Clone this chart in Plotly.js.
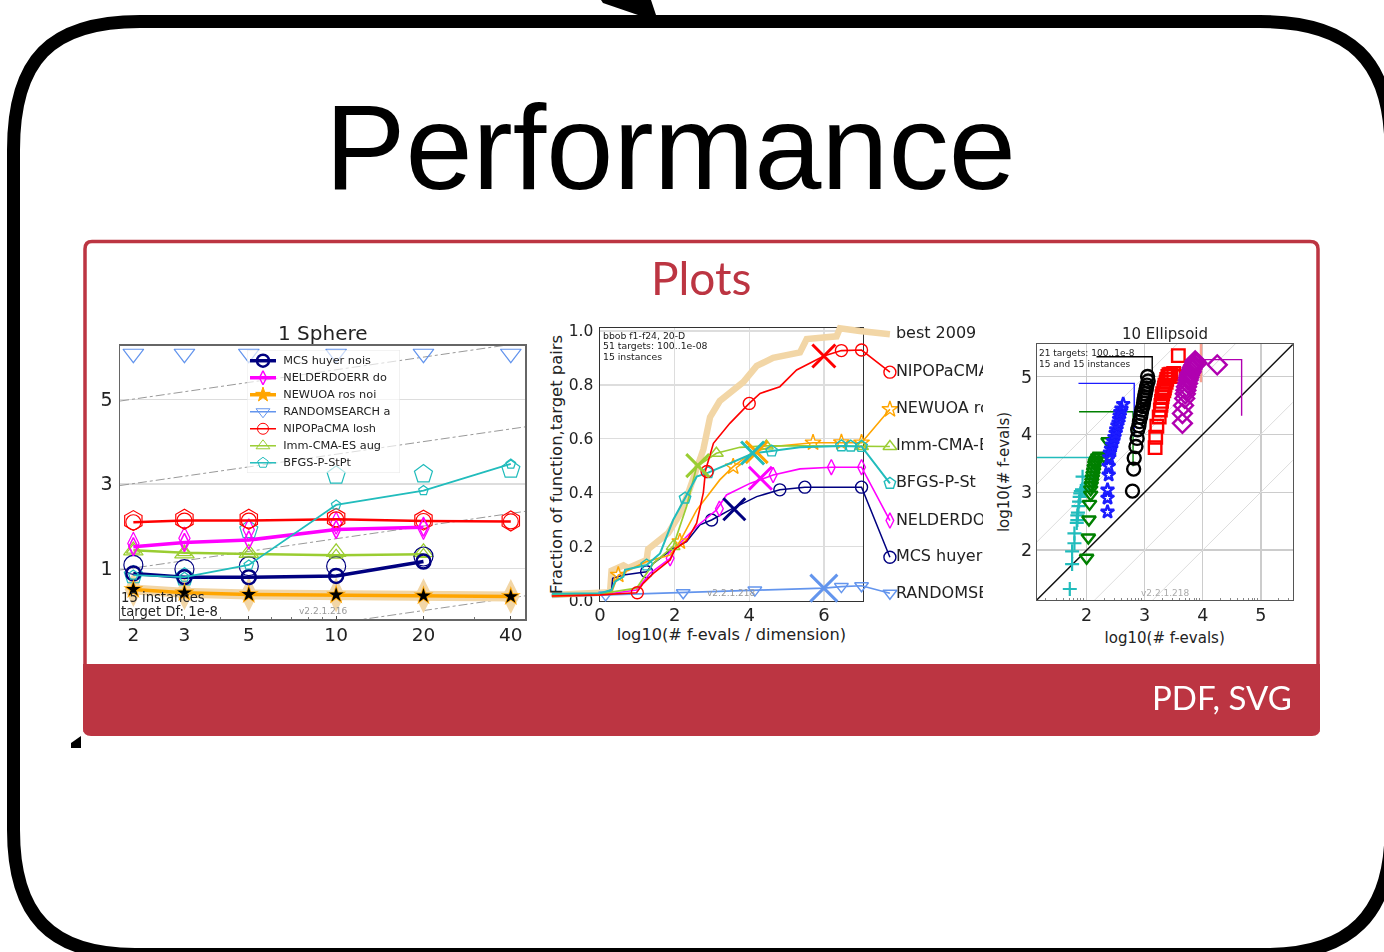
<!DOCTYPE html>
<html><head><meta charset="utf-8">
<script src="https://cdn.plot.ly/plotly-3.0.1.min.js"></script>
<style>
html,body{margin:0;padding:0;background:#fff;overflow:hidden}
#c{width:1384px;height:952px}
.subplot.x2y2,.subplot.x3y3,.subplot.x4y4,.subplot.x5y5,.subplot.x6y6,.annotation:not([data-index="0"]){filter:url(#soft)}
</style></head><body>
<svg width="0" height="0" style="position:absolute"><defs><filter id="soft" x="-10%" y="-10%" width="120%" height="120%"><feGaussianBlur stdDeviation="0.6"/></filter></defs></svg>
<div id="c"></div>
<script>
// ---------- Panel 1: scaling with dimension ----------
const dims=[2,3,5,10,20,40];
const dims20=[2,3,5,10,20];
const mcsMedian=[0.88,0.79,0.79,0.82,1.16];
const mcsOuter=[1.08,0.98,1.05,1.05,1.28];
const nelderMedian=[1.51,1.61,1.67,1.92,1.97];
const nelderOuter=[1.59,1.71,1.91,2.07,1.95];
const newuoaMedian=[0.50,0.42,0.38,0.37,0.35,0.33];
const randomTop=[6.08,6.08,6.08,6.08,6.08,6.08];
const nipopMedian=[2.09,2.13,2.13,2.16,2.12,2.11];
const nipopOuter=[2.13,2.16,2.16,2.18,2.14,2.12];
const immMedian=[1.43,1.37,1.34,1.31,1.33];
const immOuter=[1.42,1.35,1.36,1.38,1.38];
const bfgsMedian=[0.84,0.79,1.08,2.50,2.84,3.47];
const bfgsOuter=[0.84,0.79,1.91,3.20,3.23,3.34];
const refX=[1.8,45];
const refA=[4.96,6.35], refB=[2.96,4.35], refC=[0.96,2.35], refD=[-1.04,0.35];
const legendNames=['MCS huyer nois','NELDERDOERR do','NEWUOA ros noi','RANDOMSEARCH a','NIPOPaCMA losh','Imm-CMA-ES aug','BFGS-P-StPt'];
const legendRows=[0,1,2,3,4,5,6];
// ---------- Panel 2: ECDF ----------
const bestX=[-1.29,.27,.31,.63,.76,1.25,1.29,1.83,2.14,2.37,2.77,2.95,3.21,3.57,3.84,4.2,4.64,5.36,5.54,6.34,6.43,6.96,7.77];
const bestY=[.02,.03,.11,.13,.12,.15,.19,.25,.32,.40,.56,.68,.74,.78,.81,.87,.90,.92,.97,.98,1.01,1.0,.988];
const nipX=[-1.29,0,.98,1.16,1.43,1.88,2.01,2.32,2.59,2.77,2.83,3.04,3.48,4,4.29,4.82,5.27,5.71,6,6.47,7.01,7.77];
const nipY=[.016,.02,.028,.063,.1,.15,.19,.22,.286,.4,.483,.583,.657,.731,.768,.793,.855,.886,.907,.927,.929,.847];
const nipMX=[1,2.87,4,6.47,7.01,7.77], nipMY=[.028,.478,.731,.927,.929,.847];
const newX=[-1.29,0,.31,.49,1.25,1.88,2.14,2.59,3.21,3.57,4.11,4.64,5.71,6.47,7.01,7.77];
const newY=[.014,.02,.03,.094,.144,.168,.218,.335,.447,.496,.552,.571,.585,.586,.585,.709];
const newMX=[.49,2.14,3.57,5.71,6.47,7.01,7.77], newMY=[.094,.218,.496,.585,.586,.585,.709];
const immX=[-1.29,0,.98,1.43,1.96,2.32,2.59,3.12,3.75,4.46,5.36,7.01,7.77];
const immY=[.02,.024,.045,.137,.2,.348,.496,.546,.568,.573,.573,.571,.571];
const immMX=[1.96,3.12,4.46,7.01,7.77], immMY=[.2,.546,.573,.571,.571];
const bfgX=[-1.29,0,.31,.4,.63,.67,1.25,1.61,1.96,2.28,2.59,2.9,3.48,4.11,4.6,5.36,6.47,7.01,7.77];
const bfgY=[.024,.026,.038,.069,.088,.113,.131,.174,.298,.379,.459,.474,.509,.546,.554,.568,.573,.571,.434];
const bfgMX=[1.25,2.28,2.9,4.6,6.47,6.72,7.01,7.77], bfgMY=[.131,.379,.474,.554,.573,.572,.571,.434];
const nelX=[-1.29,0,.98,1.34,1.88,2.05,2.59,3.12,3.39,4.02,4.64,5.36,6.2,7.01,7.77];
const nelY=[.016,.02,.038,.1,.156,.199,.274,.335,.391,.434,.465,.488,.494,.494,.296];
const nelMX=[1.88,3.2,4.64,6.2,7.01,7.77], nelMY=[.156,.34,.465,.494,.494,.296];
const mcsX=[-1.29,0,.31,.34,.63,1.25,1.43,1.96,2.32,2.68,2.99,3.57,4.2,4.82,5.49,7.01,7.77];
const mcsY=[.02,.024,.038,.082,.094,.106,.137,.193,.218,.28,.298,.342,.385,.41,.42,.42,.16];
const mcsMX=[1.25,2.99,4.82,5.49,7.01,7.77], mcsMY=[.106,.298,.41,.42,.42,.16];
const ranX=[-1.29,0,2.23,4.15,6,6.47,7.01,7.77];
const ranY=[.014,.02,.028,.038,.045,.051,.054,.026];
const ranMX=[.15,2.23,4.15,6.47,7.01,7.77], ranMY=[.02,.028,.038,.051,.054,.026];
const crossX=[6,4.2,2.62,4.09,4.3,3.6,6];
const crossY=[.907,.55,.5,.547,.453,.338,.045];
const crossColors=['#ff0000','#ffa500','#9acd32','#20bcbc','#ff00ff','#000080','#6495ed'];
const crossSizes=[23,22,23,23,23,22,27];
const labelNames=['best 2009','NIPOPaCMA','NEWUOA ros','Imm-CMA-ES','BFGS-P-St','NELDERDOERR','MCS huyer','RANDOMSEARCH'];
const labelY=[.988,.847,.709,.571,.434,.296,.16,.024];
const labelX=[7.93,7.93,7.93,7.93,7.93,7.93,7.93,7.93];
// ---------- Panel 3: scatter ----------
const plusX=[1.71,1.75,1.75,1.79,1.79,1.83,1.84,1.84,1.85,1.86,1.87,1.88,1.89,1.9,1.92,1.96,1.93];
const plusY=[1.33,1.76,1.98,2.12,2.29,2.47,2.52,2.6,2.65,2.76,2.84,2.92,2.98,3.02,3.05,3.04,3.27];
const triX=[2,2.03,2.04,2.05,2.07,2.07,2.08,2.09,2.1,2.11,2.12,2.13,2.14,2.15,2.17,2.19,2.22,2.3,2.38,2.37];
const triY=[1.87,2.22,2.53,2.8,2.96,3.05,3.12,3.18,3.24,3.3,3.36,3.42,3.48,3.52,3.56,3.6,3.63,3.62,3.62,3.88];
const starX=[2.36,2.36,2.36,2.38,2.38,2.39,2.4,2.42,2.44,2.46,2.48,2.5,2.51,2.53,2.55,2.56,2.57,2.58,2.6,2.63];
const starY=[2.66,2.9,3.04,3.3,3.45,3.6,3.68,3.75,3.82,3.88,3.95,4.02,4.08,4.15,4.2,4.26,4.32,4.38,4.44,4.52];
const circX=[2.79,2.81,2.82,2.85,2.87,2.88,2.9,2.91,2.93,2.94,2.95,2.97,2.98,2.99,3,3.01,3.02,3.03,3.04,3.06,3.05];
const circY=[3.02,3.4,3.59,3.79,3.93,4.08,4.15,4.22,4.3,4.36,4.42,4.48,4.54,4.6,4.65,4.7,4.75,4.8,4.85,4.92,5];
const sqX=[3.18,3.19,3.21,3.25,3.27,3.28,3.29,3.3,3.31,3.33,3.34,3.35,3.37,3.38,3.4,3.42,3.45,3.5,3.58,3.58];
const sqY=[3.77,3.95,4.14,4.3,4.42,4.5,4.57,4.65,4.7,4.75,4.8,4.85,4.9,4.95,5,5.03,5.04,5.05,5,5.36];
const diaX=[3.65,3.65,3.67,3.69,3.7,3.71,3.72,3.74,3.75,3.76,3.77,3.78,3.8,3.81,3.82,3.84,3.85,3.86,3.87,3.9,4.25];
const diaY=[4.19,4.36,4.5,4.62,4.7,4.76,4.82,4.88,4.94,4.98,5.02,5.05,5.08,5.12,5.15,5.18,5.2,5.24,5.27,5.23,5.2];
const stepCyanX=[1.14,2.09,2.09], stepCyanY=[3.6,3.6,3.1];
const stepGreenX=[1.87,2.8,2.8], stepGreenY=[4.39,4.39,3.45];
const stepBlueX=[1.86,2.82,2.82], stepBlueY=[4.88,4.88,3.96];
const stepBlackX=[2.17,3.13,3.13], stepBlackY=[5.34,5.34,4.9];
const stepRedX=[3.97,3.97], stepRedY=[5.56,4.9];
const stepPurpleX=[3.7,4.67,4.67], stepPurpleY=[5.29,5.29,4.32];
const diagX=[1,6];
const diagMain=[1,6], diagP1=[2,7], diagP2=[3,8], diagM1=[0,5], diagM2=[-1,4];
const logMinor=[1.3,1.48,1.6,1.7,1.78,1.85,1.9,1.95,2.3,2.48,2.6,2.7,2.78,2.85,2.9,2.95,3.3,3.48,3.6,3.7,3.78,3.85,3.9,3.95,4.3,4.48,4.6,4.7,4.78,4.85,4.9,4.95,5.3,5.48];

const W=1384,H=952;
const xd=(a,b)=>[a/W,b/W], yd=(t,b)=>[1-b/H,1-t/H];
const F='DejaVu Sans';
const NAVY='#000080',MAG='#ff00ff',ORG='#ffa500',BLUE='#6495ed',RED='#ff0000',GRN='#9acd32',TUR='#20bcbc',TAN='#f2d6a6';

const traces=[];
function add(o,ax){ traces.push(Object.assign({type:'scatter',xaxis:'x'+ax,yaxis:'y'+ax,showlegend:false,hoverinfo:'skip'},o)); }
// invisible traces so that the page canvas and the panel-2 frame axes exist
add({x:[0],y:[0],mode:'markers',marker:{opacity:0,size:1},name:'canvas'},'');
add({x:[0],y:[0],mode:'markers',marker:{opacity:0,size:1},name:'frame'},3);

// Panel 1
[refA,refB,refC,refD].forEach(r=>add({x:refX,y:r,mode:'lines',line:{color:'#999',width:1,dash:'dashdot'},name:'reference'},2));
add({x:dims,y:newuoaMedian,mode:'lines+markers',line:{color:TAN,width:10},marker:{symbol:'diamond-tall',size:25,color:TAN},name:'NEWUOA spread'},2);
add({x:dims,y:randomTop,mode:'markers',marker:{symbol:'triangle-down-open',size:18,color:BLUE,line:{width:1.2}},name:'RANDOMSEARCH a'},2);
add({x:dims20,y:immOuter,mode:'markers',marker:{symbol:'triangle-up-open',size:17,color:GRN,line:{width:1.2}},name:'Imm outer'},2);
add({x:dims,y:bfgsOuter,mode:'markers',marker:{symbol:'pentagon-open',size:19,color:TUR,line:{width:1.2}},name:'BFGS outer'},2);
add({x:dims20,y:mcsOuter,mode:'markers',marker:{symbol:'circle-open',size:19,color:NAVY,line:{width:1.2}},name:'MCS outer'},2);
add({x:dims20,y:nelderOuter,mode:'markers',marker:{symbol:'diamond-tall-open',size:16,color:MAG,line:{width:1.2}},name:'NELDER outer'},2);
add({x:dims,y:nipopOuter,mode:'markers',marker:{symbol:'hexagon-open',size:20,color:RED,line:{width:1.2}},name:'NIPOP outer'},2);
add({x:dims20,y:immMedian,mode:'lines+markers',line:{color:GRN,width:2.5},marker:{symbol:'triangle-up-open',size:12,color:GRN,line:{width:1.2}},name:'Imm-CMA-ES aug'},2);
add({x:dims,y:nipopMedian,mode:'lines+markers',line:{color:RED,width:2.5},marker:{symbol:'circle-open',size:15,color:RED,line:{width:1.2}},name:'NIPOPaCMA losh'},2);
add({x:dims20,y:nelderMedian,mode:'lines+markers',line:{color:MAG,width:3.5},marker:{symbol:'diamond-tall-open',size:13,color:MAG,line:{width:1.5}},name:'NELDERDOERR do'},2);
add({x:dims20,y:mcsMedian,mode:'lines+markers',line:{color:NAVY,width:3.5},marker:{symbol:'circle-open',size:14,color:NAVY,line:{width:2.5}},name:'MCS huyer nois'},2);
add({x:dims,y:bfgsMedian,mode:'lines+markers',line:{color:TUR,width:1.8},marker:{symbol:'pentagon-open',size:10,color:TUR,line:{width:1.2}},name:'BFGS-P-StPt'},2);
add({x:dims,y:newuoaMedian,mode:'lines+markers',line:{color:ORG,width:3.5},marker:{symbol:'star',size:15,color:ORG},name:'NEWUOA ros noi'},2);
add({x:dims,y:newuoaMedian,mode:'markers',marker:{symbol:'star',size:11,color:'#000'},name:'NEWUOA median'},2);

// Panel 2 curves, drawn on a wider window of the same scale
const curves=[[bestX,bestY,null,null,TAN,6.5,'best 2009',null],
 [ranX,ranY,ranMX,ranMY,BLUE,1.7,'RANDOMSEARCH','triangle-down-open'],
 [mcsX,mcsY,mcsMX,mcsMY,NAVY,1.5,'MCS huyer','circle-open'],
 [nelX,nelY,nelMX,nelMY,MAG,1.6,'NELDERDOERR','diamond-tall-open'],
 [newX,newY,newMX,newMY,ORG,1.6,'NEWUOA ros','star-open'],
 [immX,immY,immMX,immMY,GRN,1.7,'Imm-CMA-ES','triangle-up-open'],
 [bfgX,bfgY,bfgMX,bfgMY,TUR,2,'BFGS-P-St','pentagon-open'],
 [nipX,nipY,nipMX,nipMY,RED,1.6,'NIPOPaCMA','circle-open']];
curves.forEach(c=>{
  add({x:c[0],y:c[1],mode:'lines',line:{color:c[4],width:c[5]},name:c[6]},5);
  if(c[2]) add({x:c[2],y:c[3],mode:'markers',marker:{symbol:c[7],size:c[7]=='diamond-tall-open'?11:12,color:c[4],line:{width:1.4}},name:c[6]+' markers'},5);
});
crossX.forEach((x,i)=>add({x:[x],y:[crossY[i]],mode:'markers',marker:{symbol:'x-thin-open',size:crossSizes[i],color:crossColors[i],line:{width:3}},name:'crossing'},5));
add({x:labelX,y:labelY,mode:'text',text:labelNames,textposition:'middle right',textfont:{family:F,size:16,color:'#222'},name:'labels'},5);

// Panel 3
add({x:diagX,y:diagP2,mode:'lines',line:{color:'#ddd',width:1},name:'+2'},4);
add({x:diagX,y:diagP1,mode:'lines',line:{color:'#ddd',width:1},name:'+1'},4);
add({x:diagX,y:diagM1,mode:'lines',line:{color:'#ddd',width:1},name:'-1'},4);
add({x:diagX,y:diagM2,mode:'lines',line:{color:'#ddd',width:1},name:'-2'},4);
add({x:diagX,y:diagMain,mode:'lines',line:{color:'#111',width:1.5},name:'diagonal'},4);
[[stepCyanX,stepCyanY,'#20bcbc'],[stepGreenX,stepGreenY,'#008000'],[stepBlueX,stepBlueY,'#1a1aff'],[stepBlackX,stepBlackY,'#000'],[stepRedX,stepRedY,'#f9a090'],[stepPurpleX,stepPurpleY,'#b000b0']].forEach(s=>
  add({x:s[0],y:s[1],mode:'lines',line:{color:s[2],width:s[2]=='#f9a090'?2.5:1.4},name:'step'},4));
add({x:plusX,y:plusY,mode:'markers',marker:{symbol:'cross-thin-open',size:10,color:'#20bcbc',line:{width:2.2}},name:'plus'},4);
add({x:triX,y:triY,mode:'markers',marker:{symbol:'triangle-down-open',size:12,color:'#008000',line:{width:2.4}},name:'triangle'},4);
add({x:starX,y:starY,mode:'markers',marker:{symbol:'star-open',size:10,color:'#1a1aff',line:{width:2.4}},name:'star'},4);
add({x:circX,y:circY,mode:'markers',marker:{symbol:'circle-open',size:13,color:'#000',line:{width:2.4}},name:'circle'},4);
add({x:sqX,y:sqY,mode:'markers',marker:{symbol:'square-open',size:12.5,color:'#ff0000',line:{width:2.4}},name:'square'},4);
add({x:diaX,y:diaY,mode:'markers',marker:{symbol:'diamond-open',size:14.5,color:'#b000b0',line:{width:2.4}},name:'diamond'},4);

// Panel 1 legend
const legendStyle=[[NAVY,3.5,'circle-open',12,2.5],[MAG,3.5,'diamond-tall-open',10,1.5],[ORG,3.5,'star',11,1],[BLUE,1.5,'triangle-down-open',12,1],[RED,1.5,'circle-open',11,1],[GRN,1.5,'triangle-up-open',12,1],[TUR,1.5,'pentagon-open',11,1]];
legendNames.forEach((n,i)=>{
  const s=legendStyle[i];
  add({x:[0,.5,1],y:[legendRows[i],legendRows[i],legendRows[i]],mode:'lines',line:{color:s[0],width:s[1]},name:n},6);
  add({x:[.5],y:[legendRows[i]],mode:'markers',marker:{symbol:s[2],size:s[3],color:s[0],line:{width:s[4],color:s[0]}},name:n+' key'},6);
  add({x:[1.28],y:[legendRows[i]],mode:'text',text:[n],textposition:'middle right',textfont:{family:F,size:11.3,color:'#222'},name:n+' label'},6);
});

const hidden={visible:false,fixedrange:true,showgrid:false,zeroline:false};
const tick={family:F,color:'#222'};
const layout={
 width:W,height:H,margin:{l:0,r:0,t:0,b:0},paper_bgcolor:'#fff',plot_bgcolor:'rgba(0,0,0,0)',showlegend:false,
 xaxis:Object.assign({range:[0,W],domain:[0,1]},hidden),
 yaxis:Object.assign({range:[H,0],domain:[0,1]},hidden),
 // panel 1
 xaxis2:{type:'log',domain:xd(120,525),range:[.255,1.651],tickvals:dims,ticktext:dims.map(String),tickfont:Object.assign({size:18.5},tick),ticklabelstandoff:-2,ticks:'inside',ticklen:3,tickcolor:'#444',
   showline:true,mirror:true,linecolor:'#666',linewidth:1.5,showgrid:false,zeroline:false,anchor:'y2',minor:{tickmode:'array',tickvals:[4,6,7,8,9,30],ticks:'inside',ticklen:2,tickcolor:'#777',showgrid:false}},
 yaxis2:{domain:yd(345.7,619),range:[-.2,6.27],tickvals:[1,3,5],tickfont:Object.assign({size:19},tick),ticklabelstandoff:2,ticks:'',gridcolor:'#ddd',gridwidth:1.5,showgrid:true,
   showline:true,mirror:true,linecolor:'#666',linewidth:1.5,zeroline:false,anchor:'x2'},
 // panel 2
 xaxis3:{domain:xd(600,862.7),range:[0,7.04],tickvals:[0,2,4,6],tickfont:Object.assign({size:18},tick),ticklabelstandoff:-3,ticks:'',gridcolor:'#ddd',gridwidth:1.5,
   showline:true,mirror:true,linecolor:'#333',linewidth:1.5,zeroline:false,anchor:'y3',
   title:{text:'log10(# f-evals / dimension)',font:{family:F,size:16.2,color:'#222'},standoff:5}},
 yaxis3:{domain:yd(328.3,600.7),range:[-.002,1.01],tickvals:[0,.2,.4,.6,.8,1],ticktext:['0.0','0.2','0.4','0.6','0.8','1.0'],tickfont:Object.assign({size:15.5},tick),ticklabelstandoff:2,ticks:'',gridcolor:'#ddd',gridwidth:1.5,
   showline:true,mirror:true,linecolor:'#333',linewidth:1.5,zeroline:false,anchor:'x3',
   title:{text:'Fraction of function,target pairs',font:{family:F,size:16.4,color:'#222'},standoff:2}},
 // panel 2 wider window: same scale, so curves run past the frame and labels cut at its edge
 xaxis5:Object.assign({domain:xd(551,983),range:[-1.313,10.265],anchor:'y5'},hidden),
 yaxis5:Object.assign({domain:yd(318,610),range:[-.036,1.048],anchor:'x5'},hidden),
 // panel 3
 xaxis4:{domain:xd(1036.7,1292.7),range:[1.14,5.55],tickvals:[2,3,4,5],tickfont:Object.assign({size:17.5},tick),ticks:'',ticklabelstandoff:-1,gridcolor:'#ccc',gridwidth:1.5,
   showline:true,mirror:true,linecolor:'#555',linewidth:1,zeroline:false,anchor:'y4',
   minor:{tickmode:'array',tickvals:logMinor,ticks:'inside',ticklen:2,tickcolor:'#888',showgrid:false},
   title:{text:'log10(# f-evals)',font:{family:F,size:15,color:'#222'},standoff:8}},
 yaxis4:{domain:yd(344,600),range:[1.14,5.56],tickvals:[2,3,4,5],tickfont:Object.assign({size:17.5},tick),ticks:'',gridcolor:'#ccc',gridwidth:1.5,
   showline:true,mirror:true,linecolor:'#555',linewidth:1,zeroline:false,anchor:'x4',
   title:{text:'log10(# f-evals)',font:{family:F,size:15,color:'#222'},standoff:7}},
 // panel 1 legend box
 xaxis6:Object.assign({domain:xd(247,400),range:[-.115,5.77],anchor:'y6'},hidden),
 yaxis6:Object.assign({domain:yd(350,473),range:[6.6,-.63],anchor:'x6'},hidden),
 shapes:[
  {type:'path',xref:'x',yref:'y',layer:'below',line:{color:'#000',width:13},fillcolor:'rgba(0,0,0,0)',
   path:'M13.5,150 C13.5,60 50,21.5 140,21.5 L1260,21.5 C1350,21.5 1391,60 1391,150 L1391,830 C1391,915 1350,954.5 1265,954.5 L135,954.5 C50,954.5 13.5,915 13.5,830 Z'},
  {type:'path',xref:'x',yref:'y',layer:'below',line:{width:0},fillcolor:'#000',path:'M601,0 L603,3 L638,15 L656,15 L651,0 Z'},
  {type:'path',xref:'x',yref:'y',layer:'below',line:{width:0},fillcolor:'#000',path:'M71,748 L71,743 L81,736 L81,748 Z'},
  {type:'path',xref:'x',yref:'y',layer:'below',line:{color:'#bc3542',width:3.5},fillcolor:'#fff',
   path:'M85,249 Q85,241.5 92,241.5 L1310,241.5 Q1318,241.5 1318,249 L1318,730 L85,730 Z'},
  {type:'path',xref:'x',yref:'y',layer:'below',line:{width:0},fillcolor:'#bc3542',
   path:'M83,664 L1320,664 L1320,728 Q1320,736 1312,736 L91,736 Q83,736 83,728 Z'},
  {type:'rect',xref:'x6',yref:'y6',layer:'below',x0:-.11,x1:5.76,y0:-.62,y1:6.59,line:{color:'rgba(220,220,220,.5)',width:1},fillcolor:'rgba(255,255,255,.65)'}
 ],
 annotations:[]
};
function note(text,x,y,size,color,family,align){
 layout.annotations.push({text,x,y,xref:'x',yref:'y',showarrow:false,xanchor:align||'center',yanchor:'middle',font:{family:family||F,size,color:color||'#222'}});
}
note('Performance',670,147,120.7,'#000','Liberation Sans');
note('Plots',701,277,46,'#bc3542','Lato');
note('PDF, SVG',1222,697,33,'#fff','Lato');
note('1 Sphere',323,333,20);
note('10 Ellipsoid',1165,334,15);
note('15 instances',119,597,13.2,'#222',F,'left');
note('target Df: 1e-8',119,611,13.2,'#222',F,'left');
note('v2.2.1.216',323,611,9,'#999');
note('bbob f1-f24, 20-D',601,335,9.3,'#222',F,'left');
note('51 targets: 100..1e-08',601,345.5,9.3,'#222',F,'left');
note('15 instances',601,356,9.3,'#222',F,'left');
note('v2.2.1.218',731,593,9,'#999');
note('21 targets: 100..1e-8',1037,353,9,'#222',F,'left');
note('15 and 15 instances',1037,364,9,'#222',F,'left');
note('v2.2.1.218',1165,593,9,'#aaa');
Plotly.newPlot('c',traces,layout,{displayModeBar:false,staticPlot:true});
</script></body></html>
